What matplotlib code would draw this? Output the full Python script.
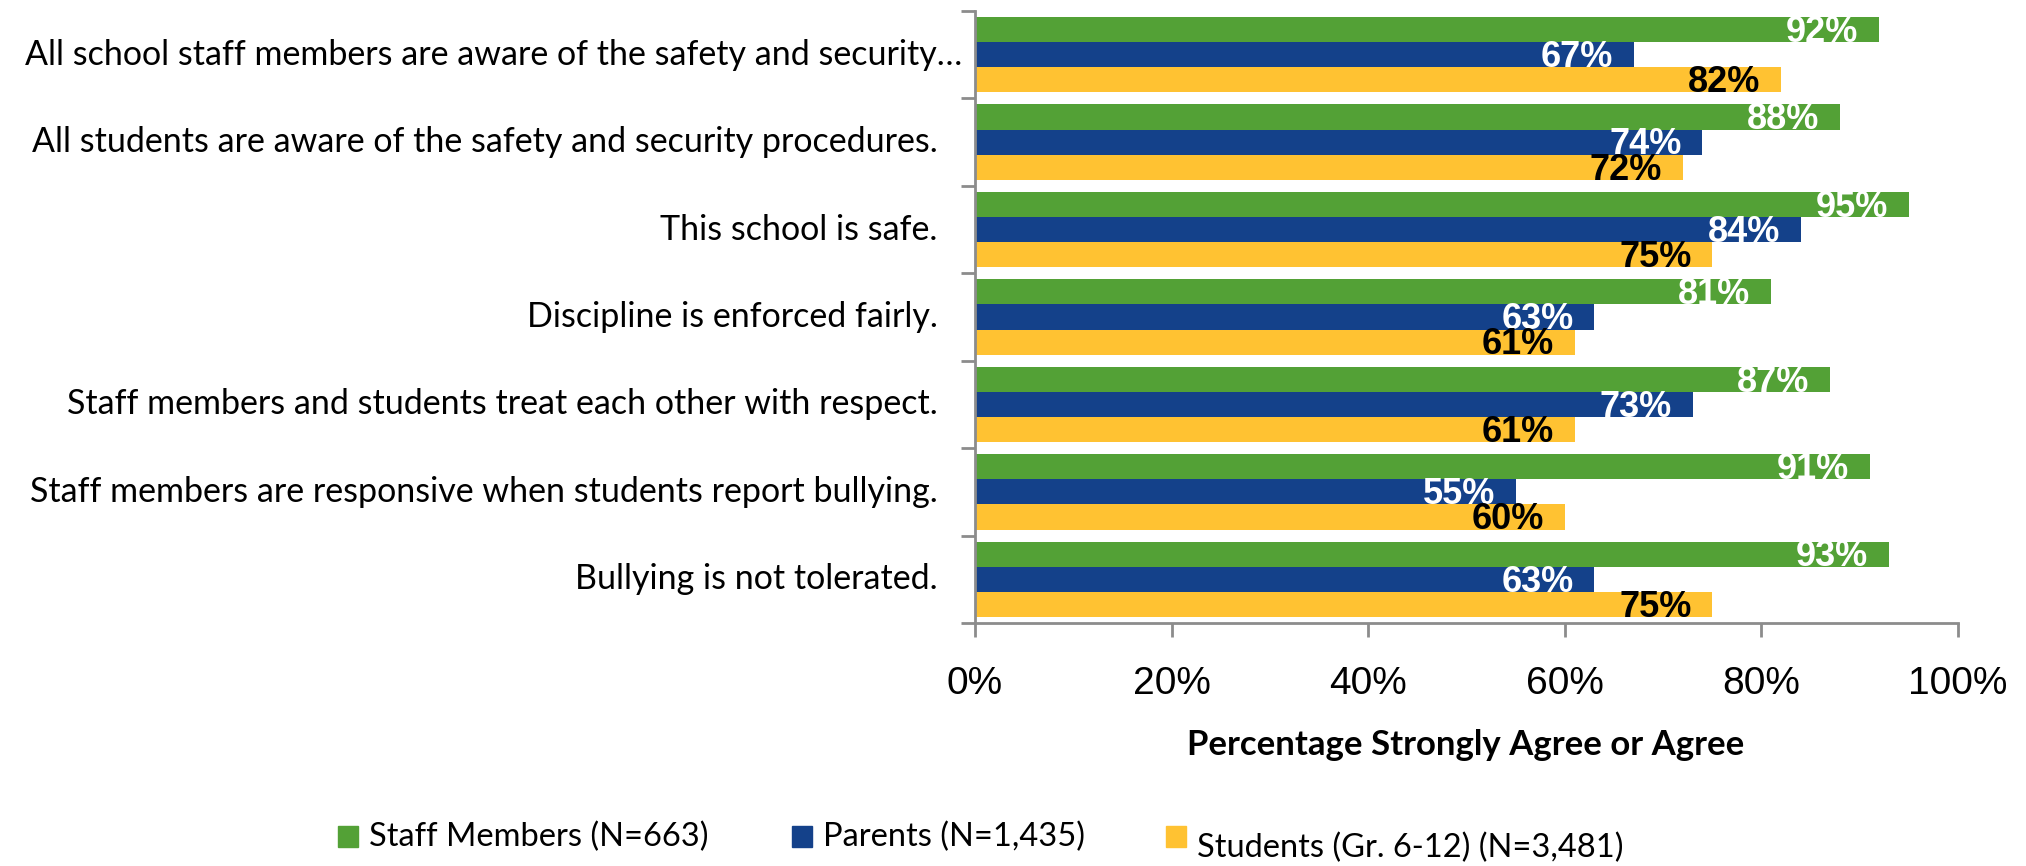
import matplotlib
matplotlib.use("Agg")
import matplotlib.pyplot as plt
from matplotlib.patches import Rectangle
import numpy as np

categories = [
    "All school staff members are aware of the safety and security\u2026",
    "All students are aware of the safety and security procedures.",
    "This school is safe.",
    "Discipline is enforced fairly.",
    "Staff members and students treat each other with respect.",
    "Staff members are responsive when students report bullying.",
    "Bullying is not tolerated.",
]
staff = [92, 88, 95, 81, 87, 91, 93]
parents = [67, 74, 84, 63, 73, 55, 63]
students = [82, 72, 75, 61, 61, 60, 75]
series_names = ["Staff Members (N=663)", "Parents (N=1,435)", "Students (Gr. 6-12) (N=3,481)"]
xticks = [0, 20, 40, 60, 80, 100]
xtick_labels = ["0%", "20%", "40%", "60%", "80%", "100%"]
x_title = "Percentage Strongly Agree or Agree"

colors = ["#53A136", "#14418A", "#FFC232"]
label_colors = ["white", "white", "black"]

W, H = 2026, 866
fig = plt.figure(figsize=(W / 100, H / 100), dpi=100)
ax = fig.add_axes([975 / W, 1 - 623 / H, (1958 - 975) / W, (623 - 11) / H])

n = len(categories)
y = np.arange(n)
bh = 0.288
all_series = [staff, parents, students]
for i, vals in enumerate(all_series):
    pos = y + (i - 1) * bh
    bars = ax.barh(pos, vals, height=bh, color=colors[i], zorder=2)
    for b, v in zip(bars, vals):
        ax.annotate(f"{v}%", xy=(v, b.get_y() + b.get_height() / 2),
                    xytext=(-15, -2), textcoords="offset points",
                    ha="right", va="center",
                    fontsize=26, fontweight="bold", color=label_colors[i],
                    family="Liberation Sans", zorder=3)

ax.set_xlim(0, 100)
ax.set_ylim(n - 0.5, -0.5)
ax.set_xticks(xticks)
ax.set_xticklabels(xtick_labels, family="Liberation Sans", fontsize=28)
ax.set_yticks(np.arange(n + 1) - 0.5)
ax.set_yticklabels([])
ax.tick_params(axis="y", which="major", length=10, width=2, color="#8C8C8C")
ax.tick_params(axis="x", which="major", length=10, width=2, color="#8C8C8C", pad=21)
for s in ["top", "right"]:
    ax.spines[s].set_visible(False)
for s in ["left", "bottom"]:
    ax.spines[s].set_color("#8C8C8C")
    ax.spines[s].set_linewidth(2)

# category labels (first one is a truncated label sitting closer to the axis)
for i, cat in enumerate(categories):
    off = -9 if i == 0 else -27
    ax.annotate(cat, xy=(0, y[i]), xycoords=("axes fraction", "data"),
                xytext=(off, 0), textcoords="offset points",
                ha="right", va="center", family="Lato", fontsize=24.5,
                annotation_clip=False)

fig.text(1466 / W, 1 - 745 / H, x_title, ha="center", va="center",
         family="Lato", fontweight="bold", fontsize=25)

# legend
leg_sq_x = [338, 792, 1166]
leg_txt_y = [837, 837, 848]
for i, name in enumerate(series_names):
    fig.add_artist(Rectangle((leg_sq_x[i] / W, 1 - 847 / H), 20 / W, 21 / H,
                             transform=fig.transFigure, color=colors[i]))
    fig.text((leg_sq_x[i] + 31) / W, 1 - leg_txt_y[i] / H, name, ha="left",
             va="center", family="Lato", fontsize=23.5)

fig.savefig("out.png", dpi=100)
